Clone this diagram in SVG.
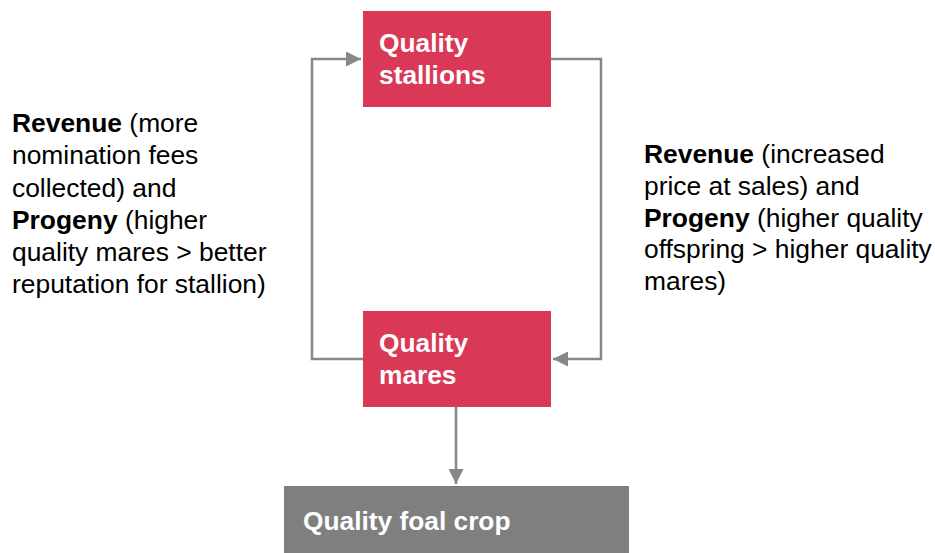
<svg xmlns="http://www.w3.org/2000/svg" width="935" height="553" viewBox="0 0 935 553">
<style>
.node-red{fill:#D93856}
.node-gray{fill:#7F7F7F}
.nt{font-family:"Liberation Sans",Arial,sans-serif;font-size:26.3px;font-weight:bold;fill:#FFFFFF}
.lbl{font-family:"Liberation Sans",Arial,sans-serif;font-size:26.4px;fill:#000000}
.b{font-weight:bold}
.conn{fill:none;stroke:#878787;stroke-width:2.5}
</style>
<defs>
<marker id="arr" viewBox="0 0 10 10" refX="10" refY="5" markerWidth="6.2" markerHeight="6" markerUnits="strokeWidth" orient="auto">
<path d="M0,0 L10,5 L0,10 Z" fill="#878787"/>
</marker>
</defs>
<rect width="935" height="553" fill="#FFFFFF"/>
<g id="connectors">
<path class="conn" d="M363,359 H312 V59 H361" marker-end="url(#arr)"/>
<path class="conn" d="M551,59 H601 V359 H553" marker-end="url(#arr)"/>
<path class="conn" d="M456,407 V484" marker-end="url(#arr)"/>
</g>
<g id="stallions">
<rect class="node-red" x="363" y="11" width="188" height="96"/>
<text class="nt" x="379" y="52">Quality</text>
<text class="nt" x="379" y="84">stallions</text>
</g>
<g id="mares">
<rect class="node-red" x="363" y="311" width="188" height="96"/>
<text class="nt" x="379" y="352">Quality</text>
<text class="nt" x="379" y="384">mares</text>
</g>
<g id="foal">
<rect class="node-gray" x="284" y="486" width="345" height="67"/>
<text class="nt" x="303" y="530">Quality foal crop</text>
</g>
<g id="label-left">
<text class="lbl" x="12" y="132"><tspan class="b">Revenue</tspan> (more</text>
<text class="lbl" x="12" y="164">nomination fees</text>
<text class="lbl" x="12" y="197">collected) and</text>
<text class="lbl" x="12" y="229"><tspan class="b">Progeny</tspan> (higher</text>
<text class="lbl" x="12" y="261">quality mares &gt; better</text>
<text class="lbl" x="12" y="293">reputation for stallion)</text>
</g>
<g id="label-right">
<text class="lbl" x="644" y="163"><tspan class="b">Revenue</tspan> (increased</text>
<text class="lbl" x="644" y="195">price at sales) and</text>
<text class="lbl" x="644" y="227"><tspan class="b">Progeny</tspan> (higher quality</text>
<text class="lbl" x="644" y="258">offspring &gt; higher quality</text>
<text class="lbl" x="644" y="290">mares)</text>
</g>
</svg>
